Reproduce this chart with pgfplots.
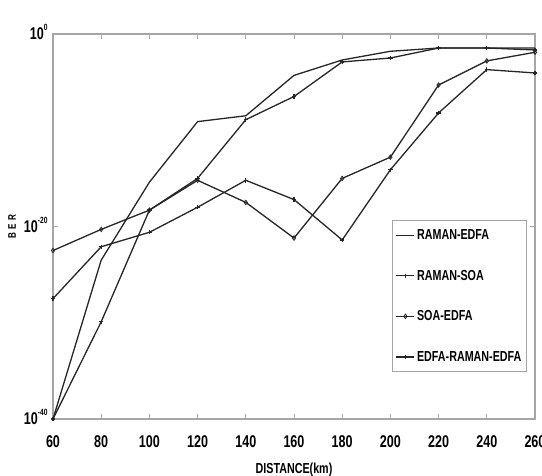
\documentclass[border=0pt]{standalone}
\usepackage{fontspec}
\setmainfont{Liberation Sans}
\newfontfamily\nb[FakeStretch=0.74]{Liberation Sans}
\usepackage{pgfplots}
\pgfplotsset{compat=1.18}
\newcommand{\ylab}[1]{10\smash{\raisebox{9pt}{\fontsize{9}{9}\selectfont #1}}}
\begin{document}
\begin{tikzpicture}[x=1pt,y=1pt]
\begin{axis}[
  at={(0,0)}, anchor=south west,
  scale only axis, width=482pt, height=385pt,
  xmin=60, xmax=260, ymode=log, log basis y=10,
  ymin=1e-40, ymax=1,
  xtick={60,80,...,260},
  ytick={1e-40,1e-20,1},
  yticklabels={\ylab{-40},\ylab{-20},\ylab{0}},
  minor ytick={}, yminorticks=false,
  tick align=inside,
  major tick length=5pt,
  axis line style={gray!70, line width=1.3pt},
  every tick/.style={gray!70, line width=0.6pt},
  /pgf/number format/assume math mode=true,
  ticklabel style={font=\nb\fontsize{17}{19}\selectfont\bfseries},
  xticklabel style={yshift=-13pt},
  yticklabel style={xshift=-2pt},
  xlabel={DISTANCE(km)},
  ylabel={B\hspace{3pt}E\hspace{3pt}R},
  xlabel style={font=\nb\fontsize{14.5}{16}\selectfont\bfseries, yshift=-9pt},
  ylabel style={font=\nb\fontsize{11}{12}\selectfont\bfseries, yshift=1pt},
  legend style={at={(0.983,0.122)}, anchor=south east, draw=gray!70,
    line width=0.8pt,
    font=\nb\fontsize{14.5}{16}\selectfont\bfseries, row sep=25pt,
    inner ysep=7pt, inner xsep=3pt},
  legend cell align=left,
  legend image code/.code={\draw[#1, line width=1.3pt] (0pt,0pt) -- (18pt,0pt) plot[mark repeat=1] coordinates {(9pt,0pt)};},
  every axis plot/.append style={line width=1.3pt, black!85, mark size=2.2pt},
]
\addplot[mark=none] coordinates {
 (60,1e-40) (80,3.2e-24) (100,4.0e-16) (120,7.9e-10) (140,3.2e-9)
 (160,5.0e-5) (180,2.0e-3) (200,1.6e-2) (220,3.5e-2) (240,3.5e-2) (260,3.5e-2)};
\addlegendentry{RAMAN-EDFA}
\addplot[mark=+] coordinates {
 (60,1e-40) (80,1.26e-30) (100,5.0e-19) (120,1e-15) (140,1.26e-9)
 (160,3.2e-7) (180,1.26e-3) (200,3.2e-3) (220,3.5e-2) (240,3.5e-2) (260,2.2e-2)};
\addlegendentry{RAMAN-SOA}
\addplot[mark=diamond, mark options={line width=0.8pt}] coordinates {
 (60,3.2e-23) (80,5.0e-21) (100,5.0e-19) (120,6.3e-16) (140,3.2e-18)
 (160,6.3e-22) (180,1e-15) (200,1.6e-13) (220,5.0e-6) (240,1.6e-3) (260,1.26e-2)};
\addlegendentry{SOA-EDFA}
\addplot[mark=+] coordinates {
 (60,3.2e-28) (80,7.9e-23) (100,2.5e-21) (120,1e-18) (140,6.3e-16)
 (160,6.3e-18) (180,4.0e-22) (200,7.9e-15) (220,6.3e-9) (240,2.0e-4) (260,8.9e-5)};
\addlegendentry{EDFA-RAMAN-EDFA}
\end{axis}
\pgfresetboundingbox
\path[use as bounding box] (-53,-57) rectangle (489,419);
\end{tikzpicture}
\end{document}
